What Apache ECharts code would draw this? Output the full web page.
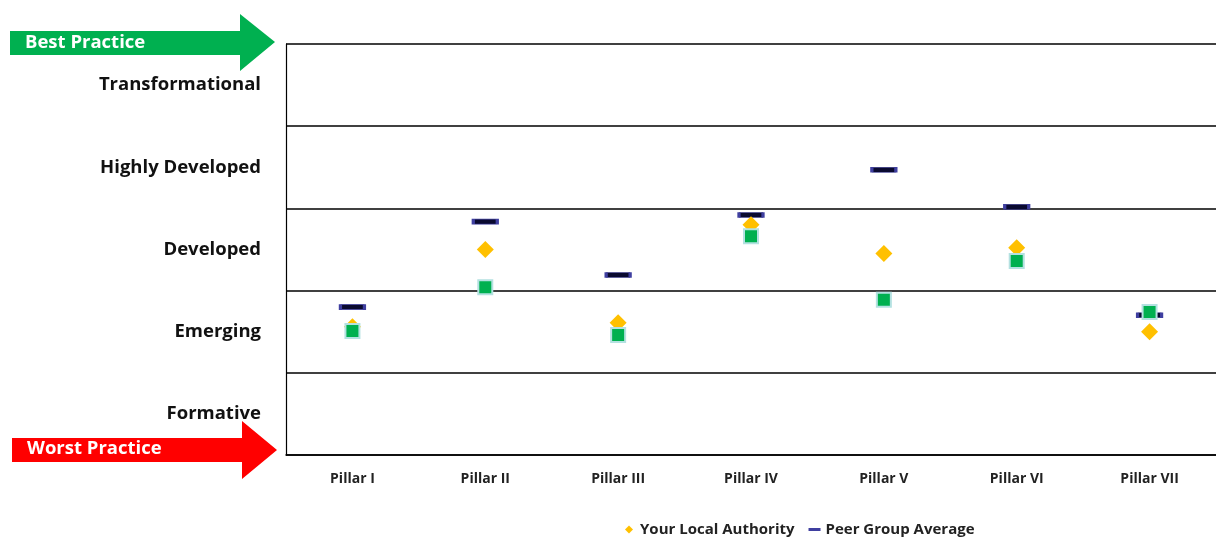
<!DOCTYPE html>
<html>
<head>
<meta charset="utf-8">
<script src="https://cdn.jsdelivr.net/npm/echarts@6/dist/echarts.min.js"></script>
<style>html,body{margin:0;padding:0;background:#fff}#c{width:1216px;height:537px}</style>
</head>
<body>
<div id="c"></div>
<script>
const categories = ['Pillar I','Pillar II','Pillar III','Pillar IV','Pillar V','Pillar VI','Pillar VII'];
const levels = ['Formative','Emerging','Developed','Highly Developed','Transformational'];
const localAuthority = [1.56, 2.50, 1.61, 2.80, 2.45, 2.52, 1.50];
const peerAverage = [1.80, 2.84, 2.19, 2.92, 3.47, 3.02, 1.70];
const greenMarker = [1.51, 2.04, 1.46, 2.66, 1.89, 2.36, 1.74];

const font = '"Open Sans", "Liberation Sans", sans-serif';
const chart = echarts.init(document.getElementById('c'), null, {renderer:'canvas'});
chart.setOption({
  animation: false,
  backgroundColor: '#fff',
  grid: {left: 286, right: 0, top: 44, bottom: 82},
  legend: {
    left: 618, top: 517,
    itemGap: 14,
    itemWidth: 12, itemHeight: 10,
    textStyle: {fontFamily: font, fontWeight: 'bold', fontSize: 15, color: '#222'},
    data: [
      {name: 'Your Local Authority', icon: 'path://M0,0 M6,1L10,5L6,9L2,5Z M12,10', itemStyle:{color:'#FFC000'}},
      {name: 'Peer Group Average', icon: 'path://M0,0 M0,3.5H12V6.5H0Z M12,10', itemStyle:{color:'#3F3FA0', borderWidth:0}}
    ]
  },
  xAxis: {
    type: 'category', data: categories,
    axisLine: {show: true, lineStyle: {color: '#000', width: 1.5}},
    axisTick: {show: false},
    axisLabel: {margin: 17, fontFamily: font, fontWeight: 'bold', fontSize: 14, color: '#222'}
  },
  yAxis: [
    {
      type: 'value', min: 0, max: 5, interval: 1,
      axisLine: {show: true, lineStyle: {color: '#000', width: 1.2}},
      axisTick: {show: false},
      axisLabel: {show: false},
      splitLine: {show: true, lineStyle: {color: '#000', width: 1.5}}
    },
    {
      type: 'category', data: levels, position: 'left', boundaryGap: true,
      axisLine: {show: false}, axisTick: {show: false}, splitLine: {show: false},
      axisLabel: {margin: 25, fontFamily: font, fontWeight: 'bold', fontSize: 18.5, color: '#111'}
    }
  ],
  graphic: [
    {type:'polygon', z: 100, shape:{points:[[10,31],[240,31],[240,14],[275,42],[240,71],[240,55],[10,55]]}, style:{fill:'#00B050'}},
    {type:'text', z: 101, x: 25, y: 43, style:{text:'Best Practice', fill:'#fff', font:'bold 18.5px ' + font, verticalAlign:'middle'}},
    {type:'polygon', z: 100, shape:{points:[[12,438],[242,438],[242,421],[277,450],[242,479],[242,462],[12,462]]}, style:{fill:'#FF0000'}},
    {type:'text', z: 101, x: 27, y: 449, style:{text:'Worst Practice', fill:'#fff', font:'bold 18.5px ' + font, verticalAlign:'middle'}}
  ],
  series: [
    {
      name: 'Peer Group Average', type: 'scatter', data: peerAverage, z: 2,
      symbol: 'rect', symbolSize: [24, 5],
      itemStyle: {color: '#0A0A30', borderColor: '#3F3FA0', borderWidth: 1.5, opacity: 1}
    },
    {
      name: 'Your Local Authority', type: 'scatter', data: localAuthority, z: 3,
      symbol: 'diamond', symbolSize: [17, 17],
      itemStyle: {color: '#FFC000', opacity: 1}
    },
    {
      name: 'Score', type: 'scatter', data: greenMarker, z: 4,
      symbol: 'rect', symbolSize: [14, 14],
      itemStyle: {color: '#00B050', borderColor: '#B4E1E1', borderWidth: 2, opacity: 1}
    }
  ]
});
</script>
</body>
</html>
